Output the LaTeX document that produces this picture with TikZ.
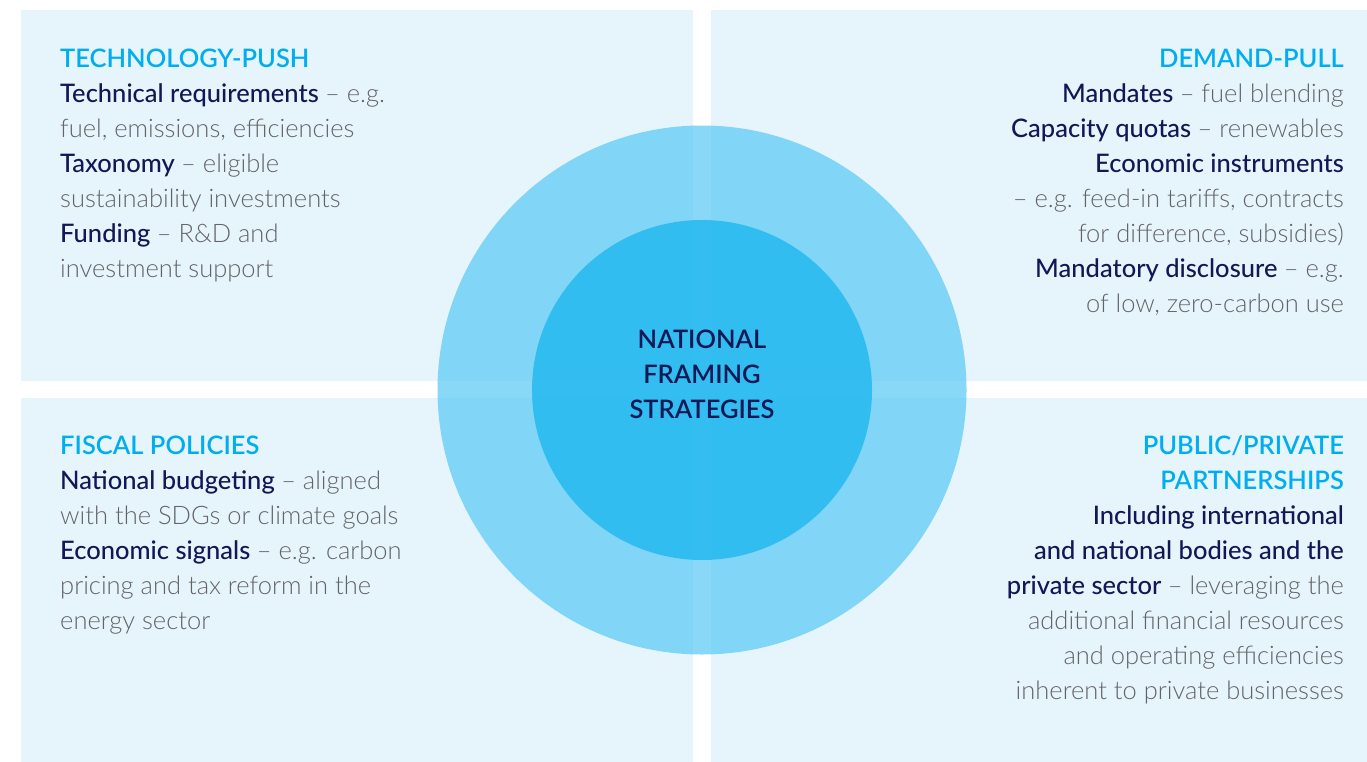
\documentclass[tikz,border=0pt]{standalone}
\usepackage{fontspec}
\setmainfont{Lato}
\newfontfamily\lightf{Lato Light}
\newfontfamily\medf{Lato Medium}
\newfontfamily\semif{Lato Semibold}
\definecolor{quadc}{RGB}{230,245,252}
\definecolor{ringc}{RGB}{72,195,243}
\definecolor{corec}{RGB}{37,185,239}
\definecolor{headc}{RGB}{0,174,239}
\definecolor{navyc}{RGB}{16,24,86}
\definecolor{grayc}{RGB}{100,100,104}
\newcommand{\hdg}[1]{{\semif\color{headc}#1}}
\newcommand{\keyw}[1]{{\medf\color{navyc}#1}}
\newcommand{\dsc}[1]{{\lightf\color{grayc}#1}}
\tikzset{
  quad/.style={fill=quadc},
  txt/.style={inner sep=0pt, font=\fontsize{25.5}{35}\selectfont},
  center text/.style={txt, align=center, font=\fontsize{25.5}{35}\selectfont\semif, text=navyc}
}
\begin{document}
\begin{tikzpicture}[x=1pt,y=-1pt]
\useasboundingbox (0,0) rectangle (1367,762);
\fill[white] (0,0) rectangle (1367,762);
% quadrants
\fill[quad] (21,10) rectangle (693,381);
\fill[quad] (711,10) rectangle (1367,381);
\fill[quad] (21,398) rectangle (693,762);
\fill[quad] (711,398) rectangle (1367,762);
% circles
\fill[ringc, fill opacity=0.64] (702,390) circle[radius=264.5];
\fill[corec, fill opacity=0.85] (702,390) circle[radius=170];
% texts (base anchor = baseline of the last line)
\node[txt, align=left, anchor=base west] (tl) at (60,277) {%
\hdg{TECHNOLOGY-PUSH}\\
\keyw{Technical requirements} \dsc{– e.g.}\\
\dsc{fuel, emissions, efficiencies}\\
\keyw{Taxonomy} \dsc{– eligible}\\
\dsc{sustainability investments}\\
\keyw{Funding} \dsc{– R\&D and}\\
\dsc{investment support}};
\node[txt, align=right, anchor=base east] (tr) at (1344,312) {%
\hdg{DEMAND-PULL}\\
\keyw{Mandates} \dsc{– fuel blending}\\
\keyw{Capacity quotas} \dsc{– renewables}\\
\keyw{Economic instruments}\\
\dsc{– e.g. feed-in tariffs, contracts}\\
\dsc{for difference, subsidies)}\\
\keyw{Mandatory disclosure} \dsc{– e.g.}\\
\dsc{of low, zero-carbon use}};
\node[txt, align=left, anchor=base west] (bl) at (60,629) {%
\hdg{FISCAL POLICIES}\\
\keyw{National budgeting} \dsc{– aligned}\\
\dsc{with the SDGs or climate goals}\\
\keyw{Economic signals} \dsc{– e.g. carbon}\\
\dsc{pricing and tax reform in the}\\
\dsc{energy sector}};
\node[txt, align=right, anchor=base east] (br) at (1344,699) {%
\hdg{PUBLIC/PRIVATE}\\
\hdg{PARTNERSHIPS}\\
\keyw{Including international}\\
\keyw{and national bodies and the}\\
\keyw{private sector} \dsc{– leveraging the}\\
\dsc{additional financial resources}\\
\dsc{and operating efficiencies}\\
\dsc{inherent to private businesses}};
\node[center text, anchor=base] (core) at (702,418) {NATIONAL\\FRAMING\\STRATEGIES};
\end{tikzpicture}
\end{document}
